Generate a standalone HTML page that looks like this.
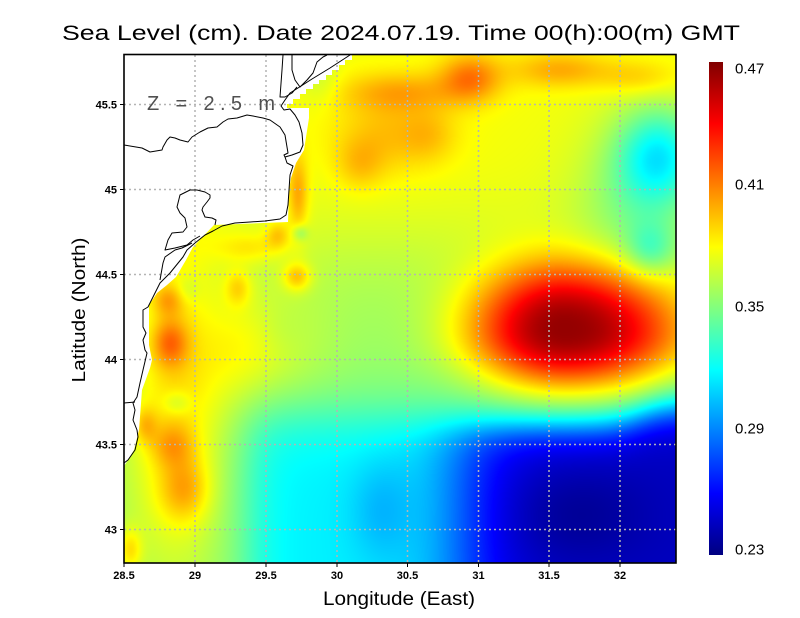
<!DOCTYPE html>
<html><head><meta charset="utf-8">
<style>
html,body{margin:0;padding:0;background:#fff;}
#wrap{position:relative;width:800px;height:618px;overflow:hidden;background:#fff;}
#c{position:absolute;left:124px;top:55px;width:552px;height:508px;}
#s{position:absolute;left:0;top:0;}
</style></head><body>
<div id="wrap">
<canvas id="c" width="552" height="508"></canvas>
<svg id="s" width="800" height="618" viewBox="0 0 800 618" xmlns="http://www.w3.org/2000/svg">
<defs>
<linearGradient id="jet" x1="0" y1="0" x2="0" y2="1">
<stop offset="0" stop-color="#800000"/>
<stop offset="0.125" stop-color="#ff0000"/>
<stop offset="0.25" stop-color="#ff8000"/>
<stop offset="0.375" stop-color="#ffff00"/>
<stop offset="0.5" stop-color="#80ff80"/>
<stop offset="0.625" stop-color="#00ffff"/>
<stop offset="0.75" stop-color="#0080ff"/>
<stop offset="0.875" stop-color="#0000ff"/>
<stop offset="1" stop-color="#000080"/>
</linearGradient>
</defs>
<polygon fill="#fff" points="124,55 352,55 352,60 345,60 345,65 339,65 339,70 332,70 332,75 326,75 326,80 319,80 319,84 313,84 313,89 306,89 306,94 300,94 300,99 293,99 293,104 287,104 287,108 309,108 309,118 304,150 296,163 291,178 289,190 288,222 214,225 193,247 186,260 176,277 167,285 157,293 149,305 149,345 152,360 150,368 142,390 139,430 134,450 128,460 124,466"/>
<g stroke="#b4b4b4" stroke-width="1.5" stroke-dasharray="2 3" fill="none">
<line x1="195" y1="55" x2="195" y2="563"/>
<line x1="266" y1="55" x2="266" y2="563"/>
<line x1="337" y1="55" x2="337" y2="563"/>
<line x1="407.5" y1="55" x2="407.5" y2="563"/>
<line x1="478.5" y1="55" x2="478.5" y2="563"/>
<line x1="549" y1="55" x2="549" y2="563"/>
<line x1="620" y1="55" x2="620" y2="563"/>
<line x1="124" y1="104.5" x2="676" y2="104.5"/>
<line x1="124" y1="189.5" x2="676" y2="189.5"/>
<line x1="124" y1="274.5" x2="676" y2="274.5"/>
<line x1="124" y1="359.5" x2="676" y2="359.5"/>
<line x1="124" y1="444.5" x2="676" y2="444.5"/>
<line x1="124" y1="529.5" x2="676" y2="529.5"/>
</g>
<g stroke="#000" stroke-width="1" fill="none" stroke-linejoin="round">
<polyline points="350,55 330,68 312,79 298,88 290,93 285,100 281,106 284,110 290,109 295,115 299,122 302,133 303,145 300,152 292,155 285,157 287,163 293,166 290,175 289,190 288,205 286,215 280,219 265,221 250,222 235,223 222,226 213,231 205,235 195,243 187,250 183,257 170,273 160,283 153,297 148,307 143,310 143,327 146,333 143,340 145,350 147,353 143,370 140,383 137,397 133,403 135,410 133,420 137,430 138,437 135,450 128,460 124,463"/>
<polyline points="124,145 142,148 150,152 162,150 163,147 167,140 170,137 175,138 180,140 188,142 192,137 200,132 208,128 217,127 223,122 228,119 237,118 247,115 253,116 263,118 270,120 280,127 285,135 287,147 288,153 284,155 285,157"/>
<polyline points="197,190 190,190 180,195 177,207 180,213 185,218 187,227 183,232 172,233 168,240 165,250 175,248 187,245 193,240 200,236"/>
<polyline points="197,190 205,192 210,195 210,198 207,202 203,207 202,210 205,217 212,218 216,220 215,225"/>
<polyline points="192,243 182,248 175,250 165,257 163,263 160,280"/>
<polyline points="124,403 135,402"/>
<polyline points="283,55 282,70 280,97 285,97 292,93 297,87"/>
<polyline points="292,55 292,70 295,80 300,87 307,80 313,73 317,62 323,57 327,55"/>
</g>
<rect x="124" y="54.5" width="552" height="508.5" fill="none" stroke="#000" stroke-width="1.6"/>
<g stroke="#000" stroke-width="1">
<line x1="120" y1="104.5" x2="124" y2="104.5"/>
<line x1="120" y1="189.5" x2="124" y2="189.5"/>
<line x1="120" y1="274.5" x2="124" y2="274.5"/>
<line x1="120" y1="359.5" x2="124" y2="359.5"/>
<line x1="120" y1="444.5" x2="124" y2="444.5"/>
<line x1="120" y1="529.5" x2="124" y2="529.5"/>
<line x1="124" y1="563" x2="124" y2="567"/>
<line x1="195" y1="563" x2="195" y2="567"/>
<line x1="266" y1="563" x2="266" y2="567"/>
<line x1="337" y1="563" x2="337" y2="567"/>
<line x1="407.5" y1="563" x2="407.5" y2="567"/>
<line x1="478.5" y1="563" x2="478.5" y2="567"/>
<line x1="549" y1="563" x2="549" y2="567"/>
<line x1="620" y1="563" x2="620" y2="567"/>
</g>
<g font-family="Liberation Sans, sans-serif" font-size="11" font-weight="bold" fill="#000">
<g text-anchor="middle">
<text x="124" y="579">28.5</text>
<text x="195" y="579">29</text>
<text x="266" y="579">29.5</text>
<text x="337" y="579">30</text>
<text x="407.5" y="579">30.5</text>
<text x="478.5" y="579">31</text>
<text x="549" y="579">31.5</text>
<text x="620" y="579">32</text>
</g>
<g text-anchor="end">
<text x="117" y="108.5">45.5</text>
<text x="117" y="193.5">45</text>
<text x="117" y="278.5">44.5</text>
<text x="117" y="363.5">44</text>
<text x="117" y="448.5">43.5</text>
<text x="117" y="533.5">43</text>
</g>
</g>
<text x="62" y="40" font-family="Liberation Sans, sans-serif" font-size="21" fill="#000" textLength="678" lengthAdjust="spacingAndGlyphs">Sea Level (cm). Date 2024.07.19. Time 00(h):00(m) GMT</text>
<text x="323" y="605" font-family="Liberation Sans, sans-serif" font-size="19" fill="#000" textLength="152" lengthAdjust="spacingAndGlyphs">Longitude (East)</text>
<text transform="translate(85,310) rotate(-90)" text-anchor="middle" font-family="Liberation Sans, sans-serif" font-size="18" fill="#000" textLength="145" lengthAdjust="spacingAndGlyphs">Latitude (North)</text>
<text x="147" y="110" font-family="Liberation Sans, sans-serif" font-size="20" fill="#505050" textLength="128" lengthAdjust="spacing">Z = 2.5 m</text>
<rect x="709" y="62" width="14" height="493" fill="url(#jet)"/>
<g font-family="Liberation Sans, sans-serif" font-size="15" fill="#000">
<text x="735" y="73.5">0.47</text>
<text x="735" y="189.5">0.41</text>
<text x="735" y="311.5">0.35</text>
<text x="735" y="433.5">0.29</text>
<text x="735" y="554.5">0.23</text>
</g>
</svg>
</div>
<script>
(function(){
var cv=document.getElementById('c'),ctx=cv.getContext('2d');
var W=552,H=508,img=ctx.createImageData(W,H),d=img.data;
function sig(z){return 1/(1+Math.exp(-z));}
var G=[
[470,78,30,24,0.033],[400,92,60,20,0.02],[560,70,50,18,0.022],[640,78,40,18,0.015],
[390,135,55,40,0.017],[360,165,24,26,0.014],[430,135,26,26,0.01],
[660,155,42,48,-0.05],[635,200,60,80,-0.022],[650,250,24,26,-0.025],
[298,195,10,40,0.025],[300,233,8,8,-0.02],[297,277,14,14,0.028],[278,235,12,14,0.02],
[238,288,13,18,0.02],[170,343,18,24,0.033],[168,300,16,16,0.022],[250,248,35,15,0.015],
[187,290,12,14,-0.01],[280,330,25,25,-0.004],
[185,490,25,32,0.025],[172,445,22,22,0.02],[145,425,12,18,0.02],[177,403,14,12,-0.014],
[130,550,12,22,0.025],[175,400,50,170,0.03],[320,80,20,25,-0.01],[240,350,40,50,0.01],
[270,350,60,65,0.012]
];
var G2=[[380,510,30,50,-0.012],[575,515,70,45,-0.01]];
function addG(L,x,y){var s=0;for(var i=0;i<L.length;i++){var g=L[i];var u=(x-g[0])/g[2],w=(y-g[1])/g[3];var e=u*u+w*w;if(e<14)s+=g[4]*Math.exp(-e);}return s;}
function f(x,y){
 var v=0.356+0.022*sig((250-y)/30);
 v+=addG(G,x,y);
 var C=sig((y-415)/18)*sig((x-250)/14)*sig((475-x)/25);
 v=v*(1-C)+0.317*C;
 var yb=426-20*sig((x-640)/15);
 var B=sig((y-yb)/12)*sig((x-455)/25);
 v=v*(1-B)+0.245*B;
 var sx=x<567?108:130, sy=y<330?75:64;
 var u=(x-567)/sx,w=(y-330)/sy,r=Math.sqrt(u*u+w*w);
 v+=0.108*Math.exp(-1.3*Math.pow(r,2.5));
 v+=addG(G2,x,y);
 return v;
}
function cl(a){return a<0?0:(a>1?1:a);}
var k=0;
for(var j=0;j<H;j++){var y=j+55.5;
 for(var i=0;i<W;i++){var x=i+124.5;
  var t=cl((f(x,y)-0.23)/0.24);
  d[k]=Math.round(255*cl(1.5-Math.abs(4*t-3)));
  d[k+1]=Math.round(255*cl(1.5-Math.abs(4*t-2)));
  d[k+2]=Math.round(255*cl(1.5-Math.abs(4*t-1)));
  d[k+3]=255;k+=4;}}
ctx.putImageData(img,0,0);
})();
</script>
</body></html>
